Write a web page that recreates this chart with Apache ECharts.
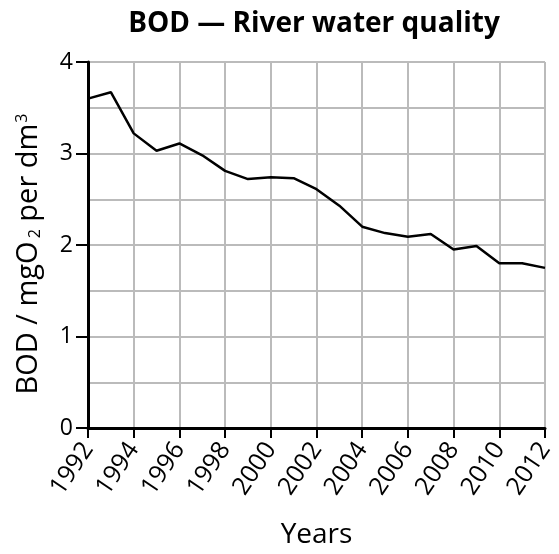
<!DOCTYPE html>
<html><head><meta charset="utf-8">
<script src="https://cdn.jsdelivr.net/npm/echarts@6/dist/echarts.min.js"></script>
<style>html,body{margin:0;padding:0;background:#fff}#c{width:559px;height:554px}</style>
</head><body><div id="c"></div>
<script>
const years = [1992,1993,1994,1995,1996,1997,1998,1999,2000,2001,2002,2003,2004,2005,2006,2007,2008,2009,2010,2011,2012];
const bod = [3.6,3.67,3.22,3.03,3.11,2.98,2.81,2.72,2.74,2.73,2.61,2.43,2.2,2.13,2.09,2.12,1.95,1.99,1.8,1.8,1.75];
const titleText = 'BOD — River water quality';
const xName = 'Years';
const FONT = 'Open Sans';
const chart = echarts.init(document.getElementById('c'));
chart.setOption({
  animation:false,
  backgroundColor:'#fff',
  title:{text:titleText,left:309,textAlign:'center',top:5,textStyle:{fontFamily:FONT,fontWeight:'bold',fontSize:28,color:'#000'}},
  grid:{left:88,right:14,top:62,bottom:124},
  xAxis:{type:'value',min:1992,max:2012,interval:2,
    name:xName,nameLocation:'middle',nameGap:93,nameTextStyle:{fontFamily:FONT,fontSize:28,color:'#000'},
    axisLine:{lineStyle:{color:'#000',width:3}},
    axisTick:{length:10,lineStyle:{color:'#000',width:2}},
    axisLabel:{rotate:56,fontFamily:FONT,fontSize:25,color:'#000',margin:17,formatter:v=>String(v)},
    splitLine:{show:true,lineStyle:{color:'#bbb',width:2}}},
  yAxis:{type:'value',min:0,max:4,interval:1,
    name:'{n|BOD / mgO}{sub|2}{n| per dm}{sup|3}',nameLocation:'middle',nameRotate:90,nameGap:45,
    nameTextStyle:{fontFamily:FONT,fontSize:29,color:'#000',padding:[0,18,0,0],rich:{
      n:{fontFamily:FONT,fontSize:29,color:'#000'},
      sub:{fontFamily:FONT,fontSize:16,color:'#000',verticalAlign:'bottom',padding:[10,0,0,3]},
      sup:{fontFamily:FONT,fontSize:16,color:'#000',verticalAlign:'top',padding:[0,0,8,1]}}},
    axisLine:{show:true,lineStyle:{color:'#000',width:3}},
    axisTick:{show:true,length:12,lineStyle:{color:'#000',width:2}},
    axisLabel:{fontFamily:FONT,fontSize:23,color:'#000',margin:15},
    splitLine:{show:true,lineStyle:{color:'#bbb',width:2}},
    minorTick:{show:false,splitNumber:2},
    minorSplitLine:{show:true,lineStyle:{color:'#bbb',width:2}}},
  series:[{type:'line',data:years.map((y,i)=>[y,bod[i]]),symbol:'none',
    lineStyle:{color:'#000',width:2.5}}]
});
</script></body></html>
